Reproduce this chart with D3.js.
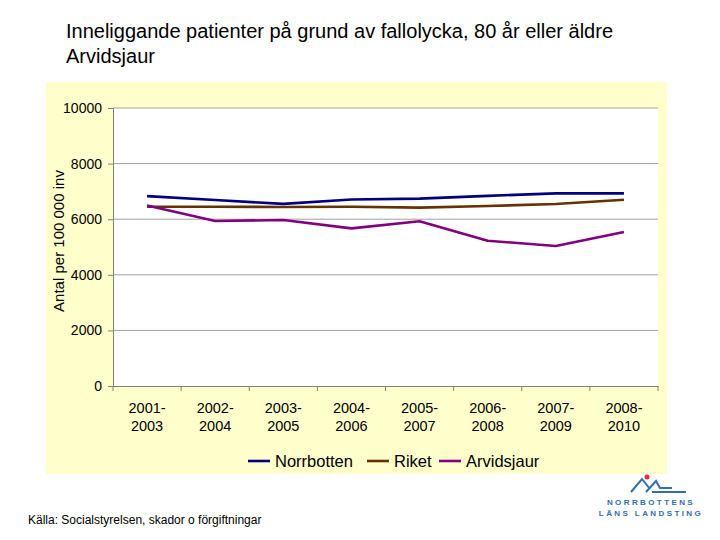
<!DOCTYPE html>
<html><head><meta charset="utf-8">
<script src="https://cdn.jsdelivr.net/npm/d3@7"></script>
<style>body{margin:0;background:#fff;font-family:Arial,"Liberation Sans",sans-serif;}</style>
</head><body>
<svg id="c" width="720" height="540"></svg>
<script>
const categories = ["2001-\n2003","2002-\n2004","2003-\n2005","2004-\n2006","2005-\n2007","2006-\n2008","2007-\n2009","2008-\n2010"];
const norrbotten = [6830, 6690, 6550, 6710, 6740, 6840, 6930, 6930];
const riket = [6450, 6450, 6440, 6450, 6415, 6475, 6545, 6700];
const arvidsjaur = [6490, 5935, 5970, 5670, 5925, 5225, 5035, 5540];
const yTicks = [0, 2000, 4000, 6000, 8000, 10000];
const seriesNames = ["Norrbotten","Riket","Arvidsjaur"];
const colors = ["#000080","#663300","#800080"];

const svg = d3.select("#c");
svg.append("rect").attr("x",46).attr("y",82).attr("width",621).attr("height",392).attr("fill","#FFFFCC");

const x = d3.scaleBand().domain(categories).range([113,658]);
const y = d3.scaleLinear().domain([0,10000]).range([386,108]);

svg.append("rect").attr("x",113).attr("y",108).attr("width",545).attr("height",278).attr("fill","#fff");

svg.append("g").selectAll("line").data(yTicks.filter(d=>d>0)).join("line")
  .attr("x1",113).attr("x2",658).attr("y1",d=>y(d)).attr("y2",d=>y(d))
  .attr("stroke","#A0A0A0").attr("stroke-width",1);

const ya = svg.append("g").attr("transform","translate(113,0)")
  .call(d3.axisLeft(y).tickValues(yTicks).tickSize(5).tickPadding(6).tickFormat(d3.format("d")));
ya.select(".domain").attr("stroke","#808080");
ya.selectAll(".tick line").attr("stroke","#808080");
ya.selectAll("text").attr("font-size",14).attr("fill","#000").attr("font-family","Arial, Liberation Sans, sans-serif");

const xa = svg.append("g").attr("transform","translate(0,386)")
  .call(d3.axisBottom(x).tickSize(0).tickFormat(""));
xa.select(".domain").attr("stroke","#808080");
const bounds = categories.map(c=>x(c)).concat([x.range()[1]]);
svg.append("g").selectAll("line").data(bounds).join("line")
  .attr("x1",d=>d).attr("x2",d=>d).attr("y1",386).attr("y2",391).attr("stroke","#808080");
const lab = svg.append("g").selectAll("text").data(categories).join("text")
  .attr("x",d=>x(d)+x.bandwidth()/2).attr("y",413).attr("text-anchor","middle")
  .attr("font-size",14.5).attr("fill","#000");
lab.each(function(d){
  const parts=d.split("\n");
  d3.select(this).selectAll("tspan").data(parts).join("tspan")
    .attr("x",x(d)+x.bandwidth()/2).attr("dy",(p,i)=>i?18:0).text(p=>p);
});

const seriesData=[norrbotten,riket,arvidsjaur];
const line=d3.line().x((d,i)=>x(categories[i])+x.bandwidth()/2).y(d=>y(d));
seriesData.forEach((s,k)=>{
  svg.append("path").datum(s).attr("d",line).attr("fill","none")
    .attr("stroke",colors[k]).attr("stroke-width",2.6).attr("stroke-linejoin","round");
});

svg.append("text").attr("transform","translate(64,241) rotate(-90)").attr("text-anchor","middle")
  .attr("font-size",15).text("Antal per 100 000 inv");

// legend
const lx=[248,367,439];
const lg=svg.append("g");
seriesNames.forEach((n,k)=>{
  lg.append("line").attr("x1",lx[k]).attr("x2",lx[k]+22).attr("y1",461).attr("y2",461)
    .attr("stroke",colors[k]).attr("stroke-width",2.6);
  lg.append("text").attr("x",lx[k]+27).attr("y",467).attr("font-size",16.5).text(n);
});

svg.append("text").attr("x",66).attr("y",38).attr("font-size",20).text("Inneliggande patienter på grund av fallolycka, 80 år eller äldre");
svg.append("text").attr("x",66).attr("y",63).attr("font-size",20).text("Arvidsjaur");
svg.append("text").attr("x",28).attr("y",524).attr("font-size",12).text("Källa: Socialstyrelsen, skador o förgiftningar");

// logo
const lgo=svg.append("g");
lgo.append("path").attr("d","M631,492 L642,479 L650,489 M646,492 L656,481 L660,488 L672,488 M652,492 L686,492").attr("fill","none").attr("stroke","#2f6fb0").attr("stroke-width",2);
lgo.append("circle").attr("cx",647).attr("cy",477).attr("r",2.5).attr("fill","#e0303a");
lgo.append("text").attr("x",651).attr("y",505).attr("text-anchor","middle").attr("font-size",8).attr("font-weight","bold").attr("letter-spacing",2.4).attr("fill","#2f6fb0").text("NORRBOTTENS");
lgo.append("text").attr("x",651).attr("y",516).attr("text-anchor","middle").attr("font-size",8).attr("font-weight","bold").attr("letter-spacing",2.4).attr("fill","#2f6fb0").text("LÄNS LANDSTING");
</script>
</body></html>
